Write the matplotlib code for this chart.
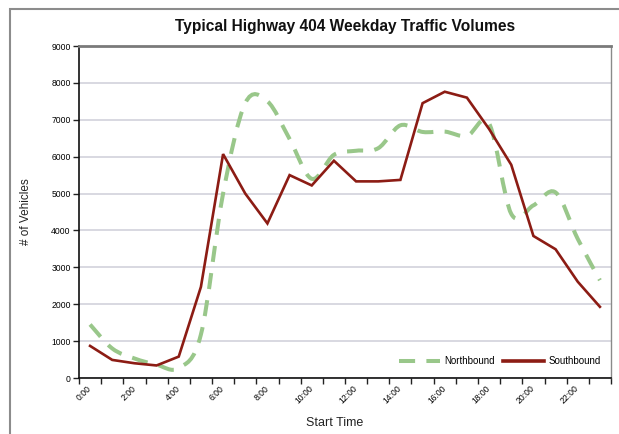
import matplotlib
matplotlib.use('Agg')
import matplotlib.pyplot as plt
import numpy as np
from matplotlib.path import Path
from matplotlib.patches import PathPatch, Rectangle
from matplotlib.lines import Line2D

# hourly start times and traffic volumes
hours = [f"{h}:00" for h in range(24)]
northbound = [1450, 800, 530, 360, 270, 1180, 5000, 7450, 7500, 6480, 5400, 6050,
              6160, 6230, 6850, 6670, 6680, 6560, 6900, 4450, 4680, 5030, 3770, 2650]
southbound = [870, 490, 400, 340, 580, 2470, 6070, 5000, 4190, 5500, 5220, 5890,
              5330, 5330, 5370, 7450, 7760, 7600, 6750, 5780, 3850, 3490, 2610, 1930]
yticks = list(range(0, 10000, 1000))

GREEN = '#99c78a'
RED = '#8c1c14'

plt.rcParams['font.family'] = ['Liberation Sans', 'DejaVu Sans']


def smooth_path(xs, ys):
    # excel-style smoothed line: catmull-rom segments as cubic beziers
    pts = np.column_stack([xs, ys]).astype(float)
    n = len(pts)
    verts = [pts[0]]
    codes = [Path.MOVETO]
    for i in range(n - 1):
        p0 = pts[max(i - 1, 0)]
        p1 = pts[i]
        p2 = pts[i + 1]
        p3 = pts[min(i + 2, n - 1)]
        verts += [p1 + (p2 - p0) / 6.0, p2 - (p3 - p1) / 6.0, p2]
        codes += [Path.CURVE4] * 3
    return Path(verts, codes)


fig = plt.figure(figsize=(6.19, 4.34), dpi=100)
ax = fig.add_axes([79 / 619, 56 / 434, 532 / 619, 332 / 434])

x = np.arange(len(hours))
green_dash = (0, (4.0, 2.8))
ax.add_patch(PathPatch(smooth_path(x, northbound), fill=False, edgecolor=GREEN,
                       lw=2.9, linestyle=green_dash, capstyle='butt', zorder=3))
ax.plot(x, southbound, color=RED, lw=1.9, zorder=4, solid_joinstyle='miter')

ax.set_xlim(-0.5, len(hours) - 0.5)
ax.set_ylim(0, 9000)
ax.set_yticks(yticks)
ax.set_yticklabels([str(v) for v in yticks], fontsize=6.2)
ax.yaxis.grid(True, color='#d6d6de', lw=1.3)
ax.set_axisbelow(True)

ax.set_xticks(np.arange(-0.5, len(hours), 1))
ax.set_xticklabels([])
ax.set_xticks(x[::2], hours[::2], minor=True)
ax.tick_params(axis='x', which='major', direction='out', length=4, width=1, color='#222222')
ax.tick_params(axis='x', which='minor', length=0, pad=6.5, labelsize=6.2)
for lbl in ax.get_xticklabels(minor=True):
    lbl.set_rotation(45)
    lbl.set_rotation_mode('anchor')
    lbl.set_ha('right')
    lbl.set_va('center')
ax.tick_params(axis='y', direction='out', length=4, width=1, pad=2, color='#222222')

ax.spines['top'].set_color('#7a7a7a')
ax.spines['top'].set_linewidth(2)
ax.spines['right'].set_color('#8a8a8a')
ax.spines['right'].set_linewidth(1)
ax.spines['left'].set_color('#111111')
ax.spines['bottom'].set_color('#111111')
ax.spines['left'].set_linewidth(1.2)
ax.spines['bottom'].set_linewidth(1.2)

handles = [Line2D([], [], color=GREEN, lw=2.9, linestyle=green_dash),
           Line2D([], [], color=RED, lw=2.6)]
ax.legend(handles, ['Northbound', 'Southbound'], loc='center right',
          bbox_to_anchor=(0.99, 0.05), ncol=2, frameon=False, fontsize=7,
          handlelength=4.2, handletextpad=0.5, columnspacing=0.8, borderpad=0)

fig.text(345 / 619, 1 - 27 / 434, 'Typical Highway 404 Weekday Traffic Volumes',
         ha='center', va='center', fontsize=11.2, fontweight='bold', color='#111111')
fig.text(26 / 619, 1 - 212 / 434, '# of Vehicles', rotation=90,
         ha='center', va='center', fontsize=8.5, color='#222222')
fig.text(335 / 619, 1 - 423 / 434, 'Start Time', ha='center', va='center',
         fontsize=9, color='#222222')

# outer chart frame (runs off the right and bottom of the picture)
fig.add_artist(Rectangle((10 / 619, -0.2), 1.2, 1.2 - 9 / 434, transform=fig.transFigure,
                         fill=False, edgecolor='#8c8c8c', lw=1.5, clip_on=False))

fig.savefig('out.png', dpi=100)
